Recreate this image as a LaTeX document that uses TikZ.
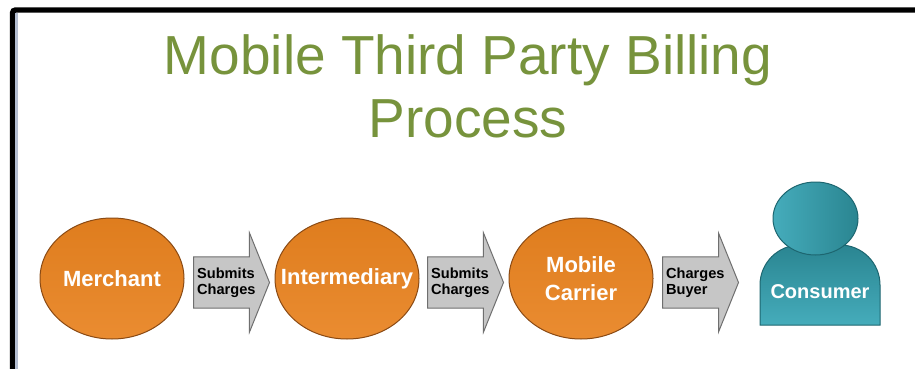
\documentclass[tikz,border=0pt]{standalone}
\usepackage{fontspec}
\setmainfont{Liberation Sans}
\usepackage{tikz}
\usetikzlibrary{shapes.geometric,shapes.arrows}
\usepackage{xcolor}
\definecolor{titlegreen}{HTML}{77933C}
\definecolor{partyorange}{HTML}{E8821F}
\definecolor{partyedge}{HTML}{8A4A14}
\definecolor{arrowgray}{HTML}{C6C6C6}
\definecolor{arrowedge}{HTML}{6F6F6F}
\definecolor{tealdark}{HTML}{2A8591}
\definecolor{teallight}{HTML}{45ACBB}
\definecolor{tealedge}{HTML}{1D6670}
\definecolor{framegray}{HTML}{B3BDD0}

\begin{document}
\begin{tikzpicture}[x=0.5pt,y=-0.5pt,
  titletext/.style={anchor=base,text=titlegreen,font=\fontsize{27.5}{31}\selectfont},
  party/.style={ellipse,draw=partyedge,line width=0.5pt,top color=partyorange!96!black,bottom color=partyorange!92!white,minimum width=72pt,minimum height=60.5pt,inner sep=0pt},
  partytext/.style={text=white,font=\fontsize{11}{14}\selectfont\bfseries,align=center},
  flow/.style={single arrow,draw=arrowedge,line width=0.5pt,fill=arrowgray,single arrow head extend=12pt,single arrow tip angle=136,minimum height=38pt,inner xsep=0pt,inner ysep=5pt,anchor=tail,font=\fontsize{7.3}{8.2}\selectfont\bfseries,align=left},
  person/.style={draw=tealedge,line width=0.5pt}]
  \useasboundingbox (0,0) rectangle (915,369);
  \clip (0,0) rectangle (915,369);
  \fill[white] (0,0) rectangle (915,369);
  \draw[black,line width=2.7pt,rounded corners=1.5pt] (12.5,380) -- (12.5,10) -- (930,10);
  \draw[framegray,line width=1.5pt] (16.5,12.7) -- (16.5,380);
  \node (title1) at (468,75) [titletext] {Mobile Third Party Billing};
  \node (title2) at (468,137) [titletext] {Process};
  \node (merchant) at (112,278.5) [party,label={[partytext]center:Merchant}] {};
  \node (intermediary) at (347,278.5) [party,label={[partytext]center:Intermediary}] {};
  \node (carrier) at (581,278.5) [party,label={[partytext]center:Mobile\\Carrier}] {};
  \node (submit1) at (193,282.5) [flow] {Submits\\Charges};
  \node (submit2) at (427,282.5) [flow] {Submits\\Charges};
  \node (charge) at (662,282.5) [flow] {Charges\\Buyer};
  \draw[person,top color=tealdark,bottom color=teallight] (760,325) [rounded corners=20pt] -- (760,245) -- (880,245) [sharp corners] -- (880,325) -- cycle;
  \node (head) at (815.5,218.5) [ellipse,person,left color=teallight,right color=tealdark,minimum width=42.5pt,minimum height=36.5pt,inner sep=0pt] {};
  \node (consumer) at (820,298) [anchor=base,text=white,font=\fontsize{10}{12}\selectfont\bfseries] {Consumer};
\end{tikzpicture}
\end{document}
